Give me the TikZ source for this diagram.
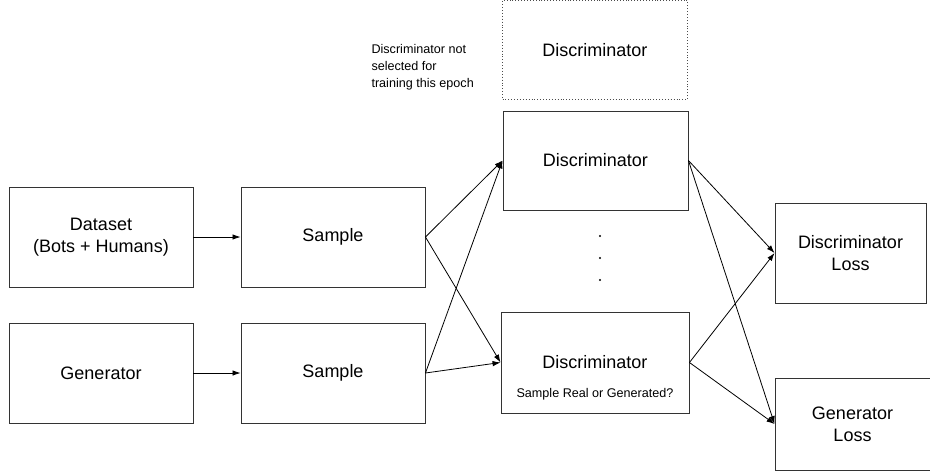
\documentclass[tikz,border=0pt]{standalone}
\usepackage{fontspec}
\setmainfont{Liberation Sans}
\usetikzlibrary{arrows.meta}
\begin{document}
\begin{tikzpicture}[x=1pt,y=-1pt,
  box/.style={draw=black!80,line width=0.9pt,minimum width=#1,inner sep=0pt,align=center,font=\fontsize{18}{22}\selectfont},
  box/.default=184pt,
  conn/.style={draw=black,line width=0.8pt,-{Latex[length=8pt,width=5.5pt]}}]
\useasboundingbox (0,0) rectangle (930,472);
\node[box,minimum height=100pt] (data) at (101,237) {Dataset\\(Bots + Humans)};
\node[box,minimum height=100pt] (s1) at (333,237) {Sample};
\node[box,minimum height=100pt] (gen) at (101,373) {Generator};
\node[box,minimum height=100pt] (s2) at (333,373) {Sample};
\node[box=185pt,minimum height=99pt,draw=black!70,dotted] (dd) at (595,50) {};
\node[font=\fontsize{18}{22}\selectfont] (ddl) at (595,50) {Discriminator};
\node[box=185pt,minimum height=99pt] (d1) at (595.5,160.5) {Discriminator};
\node[box=188pt,minimum height=101pt] (d2) at (595,362.5) {};
\node[font=\fontsize{18}{22}\selectfont] (d2l) at (595,362) {Discriminator};
\node[font=\fontsize{12.6}{15}\selectfont] (d2q) at (595,394) {Sample Real or Generated?};
\node[box=151pt,minimum height=100pt] (dl) at (850.5,253) {Discriminator\\Loss};
\node[box=155pt,minimum height=92pt] (gl) at (852.5,424) {Generator\\Loss};
\node[align=left,anchor=west,font=\fontsize{12.6}{17}\selectfont] (note) at (368,67) {Discriminator not\\selected for\\training this epoch};
\foreach \yy [count=\i] in {236,258,280} \fill (600,\yy) circle (1.2pt) coordinate (dot\i);
\draw[conn] (data.east) -- (s1.west);
\draw[conn] (gen.east) -- (s2.west);
\draw[conn] (s1.east) -- (d1.west);
\draw[conn] (s1.east) -- (d2.west);
\draw[conn] (s2.east) -- (d1.west);
\draw[conn] (s2.east) -- (d2.west);
\draw[conn] (d1.east) -- (dl.west);
\draw[conn] (d1.east) -- (gl.west);
\draw[conn] (d2.east) -- (dl.west);
\draw[conn] (d2.east) -- (gl.west);
\end{tikzpicture}
\end{document}
